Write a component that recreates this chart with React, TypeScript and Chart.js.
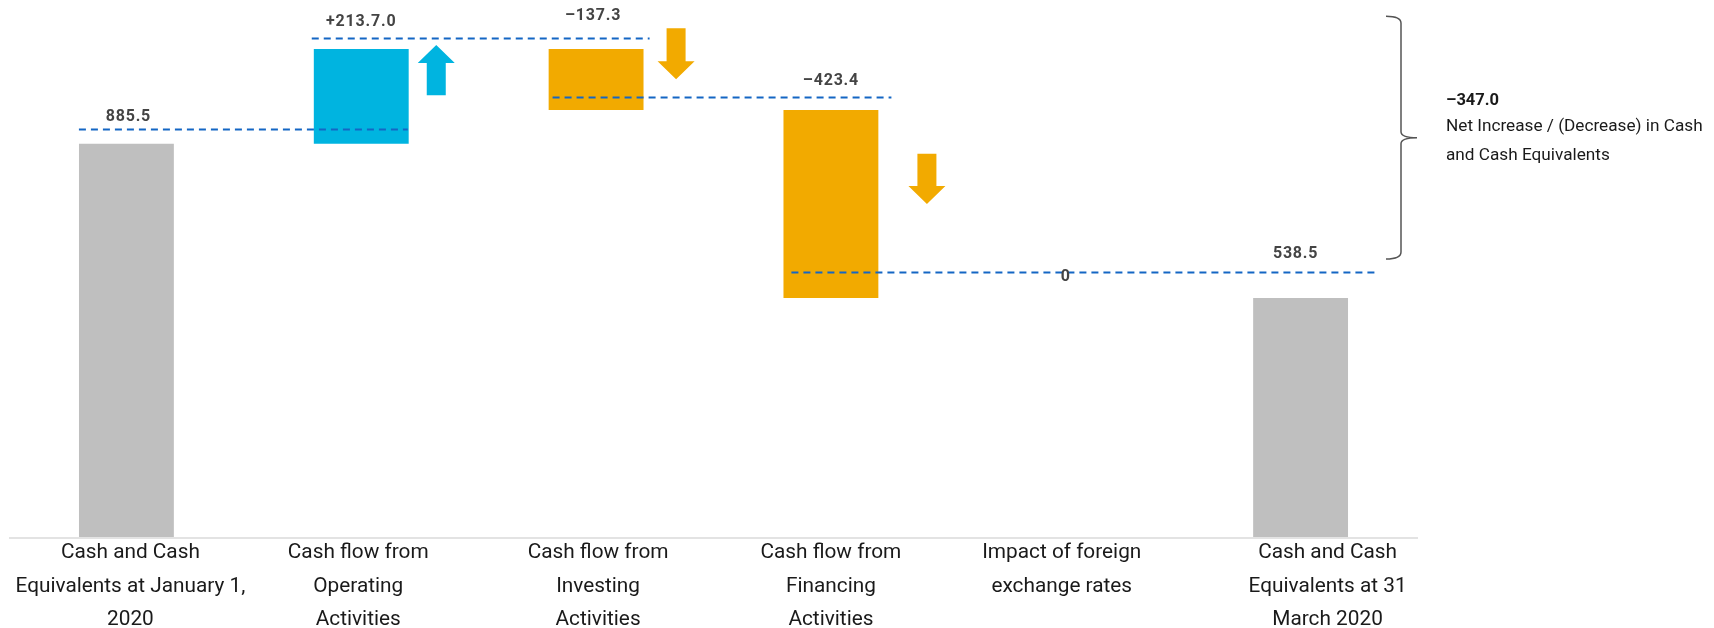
import { useEffect, useRef } from "react";
import { Chart, registerables } from "chart.js";

Chart.register(...registerables);

// Waterfall: opening balance, three cash-flow movements, FX impact, closing balance
const categories: string[][] = [
  ["Cash and Cash", "Equivalents at January 1,", "2020"],
  ["Cash flow from", "Operating", "Activities"],
  ["Cash flow from", "Investing", "Activities"],
  ["Cash flow from", "Financing", "Activities"],
  ["Impact of foreign", "exchange rates"],
  ["Cash and Cash", "Equivalents at 31", "March 2020"],
];
const values = [885.5, 213.7, -137.3, -423.4, 0, 538.5];
const isTotal = [true, false, false, false, false, true];
const valueLabels = ["885.5", "+213.7.0", "\u2013137.3", "\u2013423.4", "0", "538.5"];

// dashed connector guides: level (in EUR m) and the categories they run between
const guideLevels = [919, 1124, 992, 596];
const guideFrom = [0, 1, 2, 3];
const guideTo = [1, 2, 3, 5];
// guide each value label sits on
const labelGuide = [0, 1, 1, 2, 3, 3];

// direction arrows next to the movement bars: category, tail level, tip level
const arrowCategory = [1, 2, 3];
const arrowTail = [995, 1146, 863];
const arrowTip = [1108, 1031, 750];

// curly brace spanning the net change
const braceTop = 1173;
const braceBottom = 626;
const netChangeText = ["Net Increase / (Decrease) in Cash", "and Cash Equivalents"];

const Y_MAX = 1187;

const COLORS = {
  total: "#bfbfbf",
  up: "#00b4e0",
  down: "#f2aa00",
  guide: "#1466c4",
  label: "#444444",
  text: "#1a1a1a",
  axis: "#e3e3e3",
  brace: "#555555",
};

// drawing offsets (px) relative to category centres
const guideStart = [-47.5, -49.5, -43.5, -39.5];
const guideEnd = [46.5, 53.5, 60.5, 76.5];
const labelRise = [12, 15.5, 22, 16, -4.5, 18.5];
const labelShift = [2, 0, -3, 0, 0, -5];
const arrowDx = [75, 80, 96];
const catShift = [4, -3, 2, 0, -4, 27];

function buildRanges(): [number, number][] {
  let run = 0;
  return values.map((v, i) => {
    if (isTotal[i]) {
      run = v;
      return [0, v];
    }
    const start = run;
    run += v;
    return [Math.min(start, run), Math.max(start, run)];
  });
}

function barColor(i: number): string {
  if (isTotal[i]) return COLORS.total;
  return values[i] >= 0 ? COLORS.up : COLORS.down;
}

function fmtNet(v: number): string {
  const s = Math.abs(v).toFixed(1);
  return v < 0 ? "\u2013" + s : "+" + s;
}

const overlayPlugin = {
  id: "waterfallOverlay",
  afterDatasetsDraw(chart: any) {
    const { ctx, chartArea, scales } = chart;
    const x = scales.x;
    const y = scales.y;
    const cx = (i: number) => x.getPixelForValue(i);

    ctx.save();

    // baseline
    ctx.strokeStyle = COLORS.axis;
    ctx.lineWidth = 2;
    ctx.beginPath();
    ctx.moveTo(chartArea.left, chartArea.bottom + 1);
    ctx.lineTo(chartArea.right, chartArea.bottom + 1);
    ctx.stroke();

    // dashed guides
    ctx.strokeStyle = COLORS.guide;
    ctx.lineWidth = 2;
    ctx.setLineDash([7, 5]);
    guideLevels.forEach((lvl, g) => {
      const py = Math.round(y.getPixelForValue(lvl)) + 0.5;
      ctx.beginPath();
      ctx.moveTo(cx(guideFrom[g]) + guideStart[g], py);
      ctx.lineTo(cx(guideTo[g]) + guideEnd[g], py);
      ctx.stroke();
    });
    ctx.setLineDash([]);

    // arrows
    arrowCategory.forEach((c, k) => {
      const ax = cx(c) + arrowDx[k];
      const tail = y.getPixelForValue(arrowTail[k]);
      const tip = y.getPixelForValue(arrowTip[k]);
      const dir = tip < tail ? -1 : 1;
      const head = 18;
      const hw = 18.5;
      const sw = 9.5;
      const base = tip - dir * head;
      ctx.fillStyle = values[c] >= 0 ? COLORS.up : COLORS.down;
      ctx.beginPath();
      ctx.moveTo(ax - sw, tail);
      ctx.lineTo(ax + sw, tail);
      ctx.lineTo(ax + sw, base);
      ctx.lineTo(ax + hw, base);
      ctx.lineTo(ax, tip);
      ctx.lineTo(ax - hw, base);
      ctx.lineTo(ax - sw, base);
      ctx.closePath();
      ctx.fill();
    });

    // value labels
    ctx.font = "bold 16px Roboto";
    (ctx as any).letterSpacing = "0.8px";
    ctx.fillStyle = COLORS.label;
    ctx.textAlign = "center";
    ctx.textBaseline = "middle";
    valueLabels.forEach((t, i) => {
      const gy = y.getPixelForValue(guideLevels[labelGuide[i]]);
      ctx.fillText(t, cx(i) + labelShift[i], gy - labelRise[i]);
    });
    (ctx as any).letterSpacing = "0px";

    // category labels
    ctx.font = "20.8px Roboto";
    ctx.fillStyle = COLORS.text;
    categories.forEach((lines, i) => {
      lines.forEach((ln, j) => {
        ctx.fillText(ln, cx(i) + catShift[i], chartArea.bottom + 16 + j * 33.5);
      });
    });

    // brace
    const yT = y.getPixelForValue(braceTop);
    const yB = y.getPixelForValue(braceBottom);
    const yM = (yT + yB) / 2;
    const xe = chartArea.right - 32;
    const xs = chartArea.right - 17;
    const xt = chartArea.right - 1;
    ctx.strokeStyle = COLORS.brace;
    ctx.lineWidth = 1.5;
    ctx.beginPath();
    ctx.moveTo(xe, yT);
    ctx.quadraticCurveTo(xs, yT, xs, yT + 7);
    ctx.lineTo(xs, yM - 6);
    ctx.quadraticCurveTo(xs, yM, xt, yM);
    ctx.moveTo(xt, yM);
    ctx.quadraticCurveTo(xs, yM, xs, yM + 6);
    ctx.lineTo(xs, yB - 7);
    ctx.quadraticCurveTo(xs, yB, xe, yB);
    ctx.stroke();

    // net change note
    const net = values[values.length - 1] - values[0];
    const tx = chartArea.right + 28;
    ctx.textAlign = "left";
    ctx.fillStyle = COLORS.text;
    ctx.font = "bold 16.5px Roboto";
    ctx.fillText(fmtNet(net), tx, yM - 37);
    ctx.font = "17.2px Roboto";
    netChangeText.forEach((ln, j) => ctx.fillText(ln, tx, yM - 10.5 + j * 29));

    ctx.restore();
  },
};

export default function App() {
  const ref = useRef<HTMLCanvasElement | null>(null);

  useEffect(() => {
    if (!ref.current) return;
    const ranges = buildRanges();
    const chart = new Chart(ref.current, {
      type: "bar",
      data: {
        labels: categories.map((c) => c.join(" ")),
        datasets: [
          {
            data: ranges as any,
            backgroundColor: values.map((_, i) => barColor(i)),
            borderWidth: 0,
            barPercentage: 0.404,
            categoryPercentage: 1,
          },
        ],
      },
      options: {
        animation: false,
        responsive: false,
        maintainAspectRatio: false,
        layout: { padding: { left: 9, right: 296, top: 10, bottom: 91 } },
        plugins: { legend: { display: false }, tooltip: { enabled: false } },
        scales: {
          x: { display: false, offset: true },
          y: { display: false, min: 0, max: Y_MAX },
        },
      },
      plugins: [overlayPlugin],
    });
    return () => chart.destroy();
  }, []);

  return (
    <div style={{ position: "fixed", left: 0, top: 0, width: 1714, height: 628, background: "#fff" }}>
      <canvas ref={ref} width={1714} height={628} style={{ width: 1714, height: 628, display: "block" }} />
    </div>
  );
}
